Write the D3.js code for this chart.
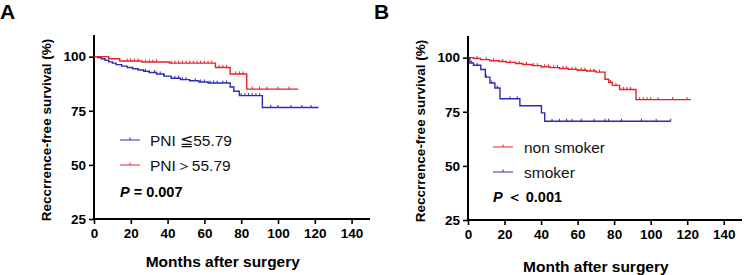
<!DOCTYPE html>
<html>
<head>
<meta charset="utf-8">
<script src="https://cdn.jsdelivr.net/npm/d3@7"></script>
<style>
  body { margin: 0; background: #fff; }
  svg { display: block; font-family: "Liberation Sans", Arial, sans-serif; }
</style>
</head>
<body>
<svg id="chart" width="744" height="275"></svg>
<script>
// ---- data ----
const xTicks = [0, 20, 40, 60, 80, 100, 120, 140];
const yTicks = [25, 50, 75, 100];

// Panel A: PNI
const timesA_low = [0, 2, 4, 6, 8, 10, 12, 15, 18, 21, 24, 27, 30, 34, 38, 42, 47, 52, 57, 62, 74, 76, 79, 91.5, 122];
const survA_low  = [100, 99.6, 99, 98.3, 97.6, 97, 96.3, 95.6, 95, 94.4, 93.8, 93.2, 92.7, 92, 91, 90, 89.4, 88.9, 88.3, 87.8, 86, 84, 82, 76.5, 76.5];
const censA_low  = [28, 30, 33, 36, 38, 44, 46, 48, 50, 55, 58, 60, 63, 65, 67, 70, 72, 80, 82, 84, 86, 88, 90, 96, 100, 107, 113, 118];
const timesA_high = [0, 8, 14, 26, 41, 66, 74, 83, 111];
const survA_high  = [100, 99, 98, 97.5, 97, 95, 92, 85, 85];
const censA_high  = [18, 20, 22, 24, 28, 30, 32, 34, 42, 44, 46, 48, 50, 52, 54, 56, 58, 60, 62, 64, 68, 70, 72, 77, 79, 81, 86, 90, 94, 100, 106];

// Panel B: smoking
const timesB_non = [0, 3, 7, 12, 17, 21, 26, 30, 35, 40, 45, 50, 55, 60, 65, 70, 75, 77, 79, 83, 92, 122];
const survB_non  = [100, 99.6, 99.1, 98.6, 98.2, 97.8, 97.3, 96.8, 96.3, 95.8, 95.4, 95.0, 94.6, 94.2, 93.8, 93.3, 90, 88.5, 87.2, 85.3, 80.6, 80.6];
const censB_non  = [5, 10, 14, 19, 23, 28, 32, 36, 38, 42, 44, 47, 49, 52, 54, 57, 59, 62, 64, 67, 69, 72, 78, 81, 85, 87, 89, 94, 96, 98, 100, 104, 112, 120];
const timesB_smk = [0, 1, 3, 7, 9.5, 12, 14.7, 17.5, 28.4, 40.2, 42, 111];
const survB_smk  = [100, 97.5, 96.5, 94.5, 91, 88.3, 86, 81, 77.8, 74.5, 70.6, 70.6];
const censB_smk  = [2, 5, 10, 13, 16, 23, 27, 46, 50, 54, 57, 62, 69, 75, 77, 84, 95, 103, 111];

const RED = "#e8202a";
const BLUE = "#2a2ab8";

const svg = d3.select("#chart");

function drawPanel(o) {
  const g = svg.append("g");
  const x = d3.scaleLinear().domain([0, 150]).range([o.x0, o.x1]);
  const y = d3.scaleLinear().domain([25, 110]).range([o.y0, o.y1]);

  // axes
  const xAxis = g.append("g")
    .attr("transform", `translate(0,${o.y0})`)
    .call(d3.axisBottom(x).tickValues(xTicks).tickSize(5).tickPadding(4));
  const yAxis = g.append("g")
    .attr("transform", `translate(${o.x0},0)`)
    .call(d3.axisLeft(y).tickValues(yTicks).tickSize(5).tickPadding(3));
  [xAxis, yAxis].forEach(a => {
    a.select(".domain").attr("stroke", "#000").attr("stroke-width", 2);
    a.selectAll(".tick line").attr("stroke", "#000").attr("stroke-width", 1.6);
    a.selectAll("text").attr("fill", "#000").attr("font-size", 13.5).attr("font-weight", "bold")
      .attr("font-family", "Liberation Sans, Arial, sans-serif");
  });
  xAxis.select(".domain").attr("d", `M${o.x0},0H${o.x1}`);
  yAxis.select(".domain").attr("d", `M0,${o.y0}V${o.y1}`);

  // curves
  const line = d3.line().x(d => x(d[0])).y(d => y(d[1])).curve(d3.curveStepAfter);
  o.series.forEach(s => {
    const pts = s.times.map((t, i) => [t, s.surv[i]]);
    g.append("path").datum(pts)
      .attr("fill", "none").attr("stroke", s.color).attr("stroke-width", 1.4)
      .attr("d", line);
    // survival value at time t (step function)
    const at = t => {
      let v = s.surv[0];
      for (let i = 0; i < s.times.length; i++) if (s.times[i] <= t) v = s.surv[i];
      return v;
    };
    g.selectAll(null).data(s.cens).enter().append("line")
      .attr("x1", d => x(d)).attr("x2", d => x(d))
      .attr("y1", d => y(at(d))).attr("y2", d => y(at(d)) - 2.5)
      .attr("stroke", s.color).attr("stroke-width", 1);
  });

  // legend
  o.series.forEach((s, i) => {
    const ly = o.legY + i * 25;
    g.append("line").attr("x1", o.legX).attr("x2", o.legX + 20)
      .attr("y1", ly).attr("y2", ly)
      .attr("stroke", s.color).attr("stroke-opacity", 0.7).attr("stroke-width", 1.4);
    g.append("line").attr("x1", o.legX + 10).attr("x2", o.legX + 10)
      .attr("y1", ly).attr("y2", ly - 2.5)
      .attr("stroke", s.color).attr("stroke-width", 1);
    g.append("text").attr("x", o.legX + o.legTextDx).attr("y", ly + 5.5)
      .attr("font-size", 15.5).attr("fill", "#111").text(s.label);
  });

  // p-value
  const p = g.append("text").attr("x", o.legX).attr("y", o.pY)
    .attr("font-size", 14.5).attr("font-weight", "bold").attr("fill", "#000");
  p.append("tspan").attr("font-style", "italic").text("P");
  p.append("tspan").text(o.pText);

  // titles
  g.append("text")
    .attr("transform", `translate(${o.x0 - 43},${(o.y0 + o.y1) / 2 + 3}) rotate(-90)`)
    .attr("text-anchor", "middle").attr("font-size", 13.5).attr("font-weight", "bold")
    .text("Reccrrence-free survival (%)");
  g.append("text")
    .attr("x", x(70)).attr("y", o.xTitleY)
    .attr("text-anchor", "middle").attr("font-size", 15.5).attr("font-weight", "bold")
    .text(o.xTitle);
  g.append("text")
    .attr("x", o.letterX).attr("y", 18.5)
    .attr("font-size", 21).attr("font-weight", "bold").text(o.letter);
}

drawPanel({
  letter: "A", letterX: 0,
  x0: 94, x1: 370, y0: 219, y1: 35,
  legX: 120, legY: 140, legTextDx: 30, pY: 197, pText: " = 0.007",
  xTitle: "Months after surgery", xTitleY: 267,
  series: [
    { label: "PNI \u2266 55.79".replace("\u2266 ", "\u2266"), times: timesA_low, surv: survA_low, cens: censA_low, color: BLUE },
    { label: "PNI\uFF1E55.79", times: timesA_high, surv: survA_high, cens: censA_high, color: RED }
  ]
});

drawPanel({
  letter: "B", letterX: 374,
  x0: 468, x1: 742, y0: 220, y1: 36,
  legX: 493, legY: 147, legTextDx: 31, pY: 202, pText: " \uFF1C 0.001",
  xTitle: "Month after surgery", xTitleY: 272,
  series: [
    { label: "non smoker", times: timesB_non, surv: survB_non, cens: censB_non, color: RED },
    { label: "smoker", times: timesB_smk, surv: survB_smk, cens: censB_smk, color: BLUE }
  ]
});
</script>
</body>
</html>
